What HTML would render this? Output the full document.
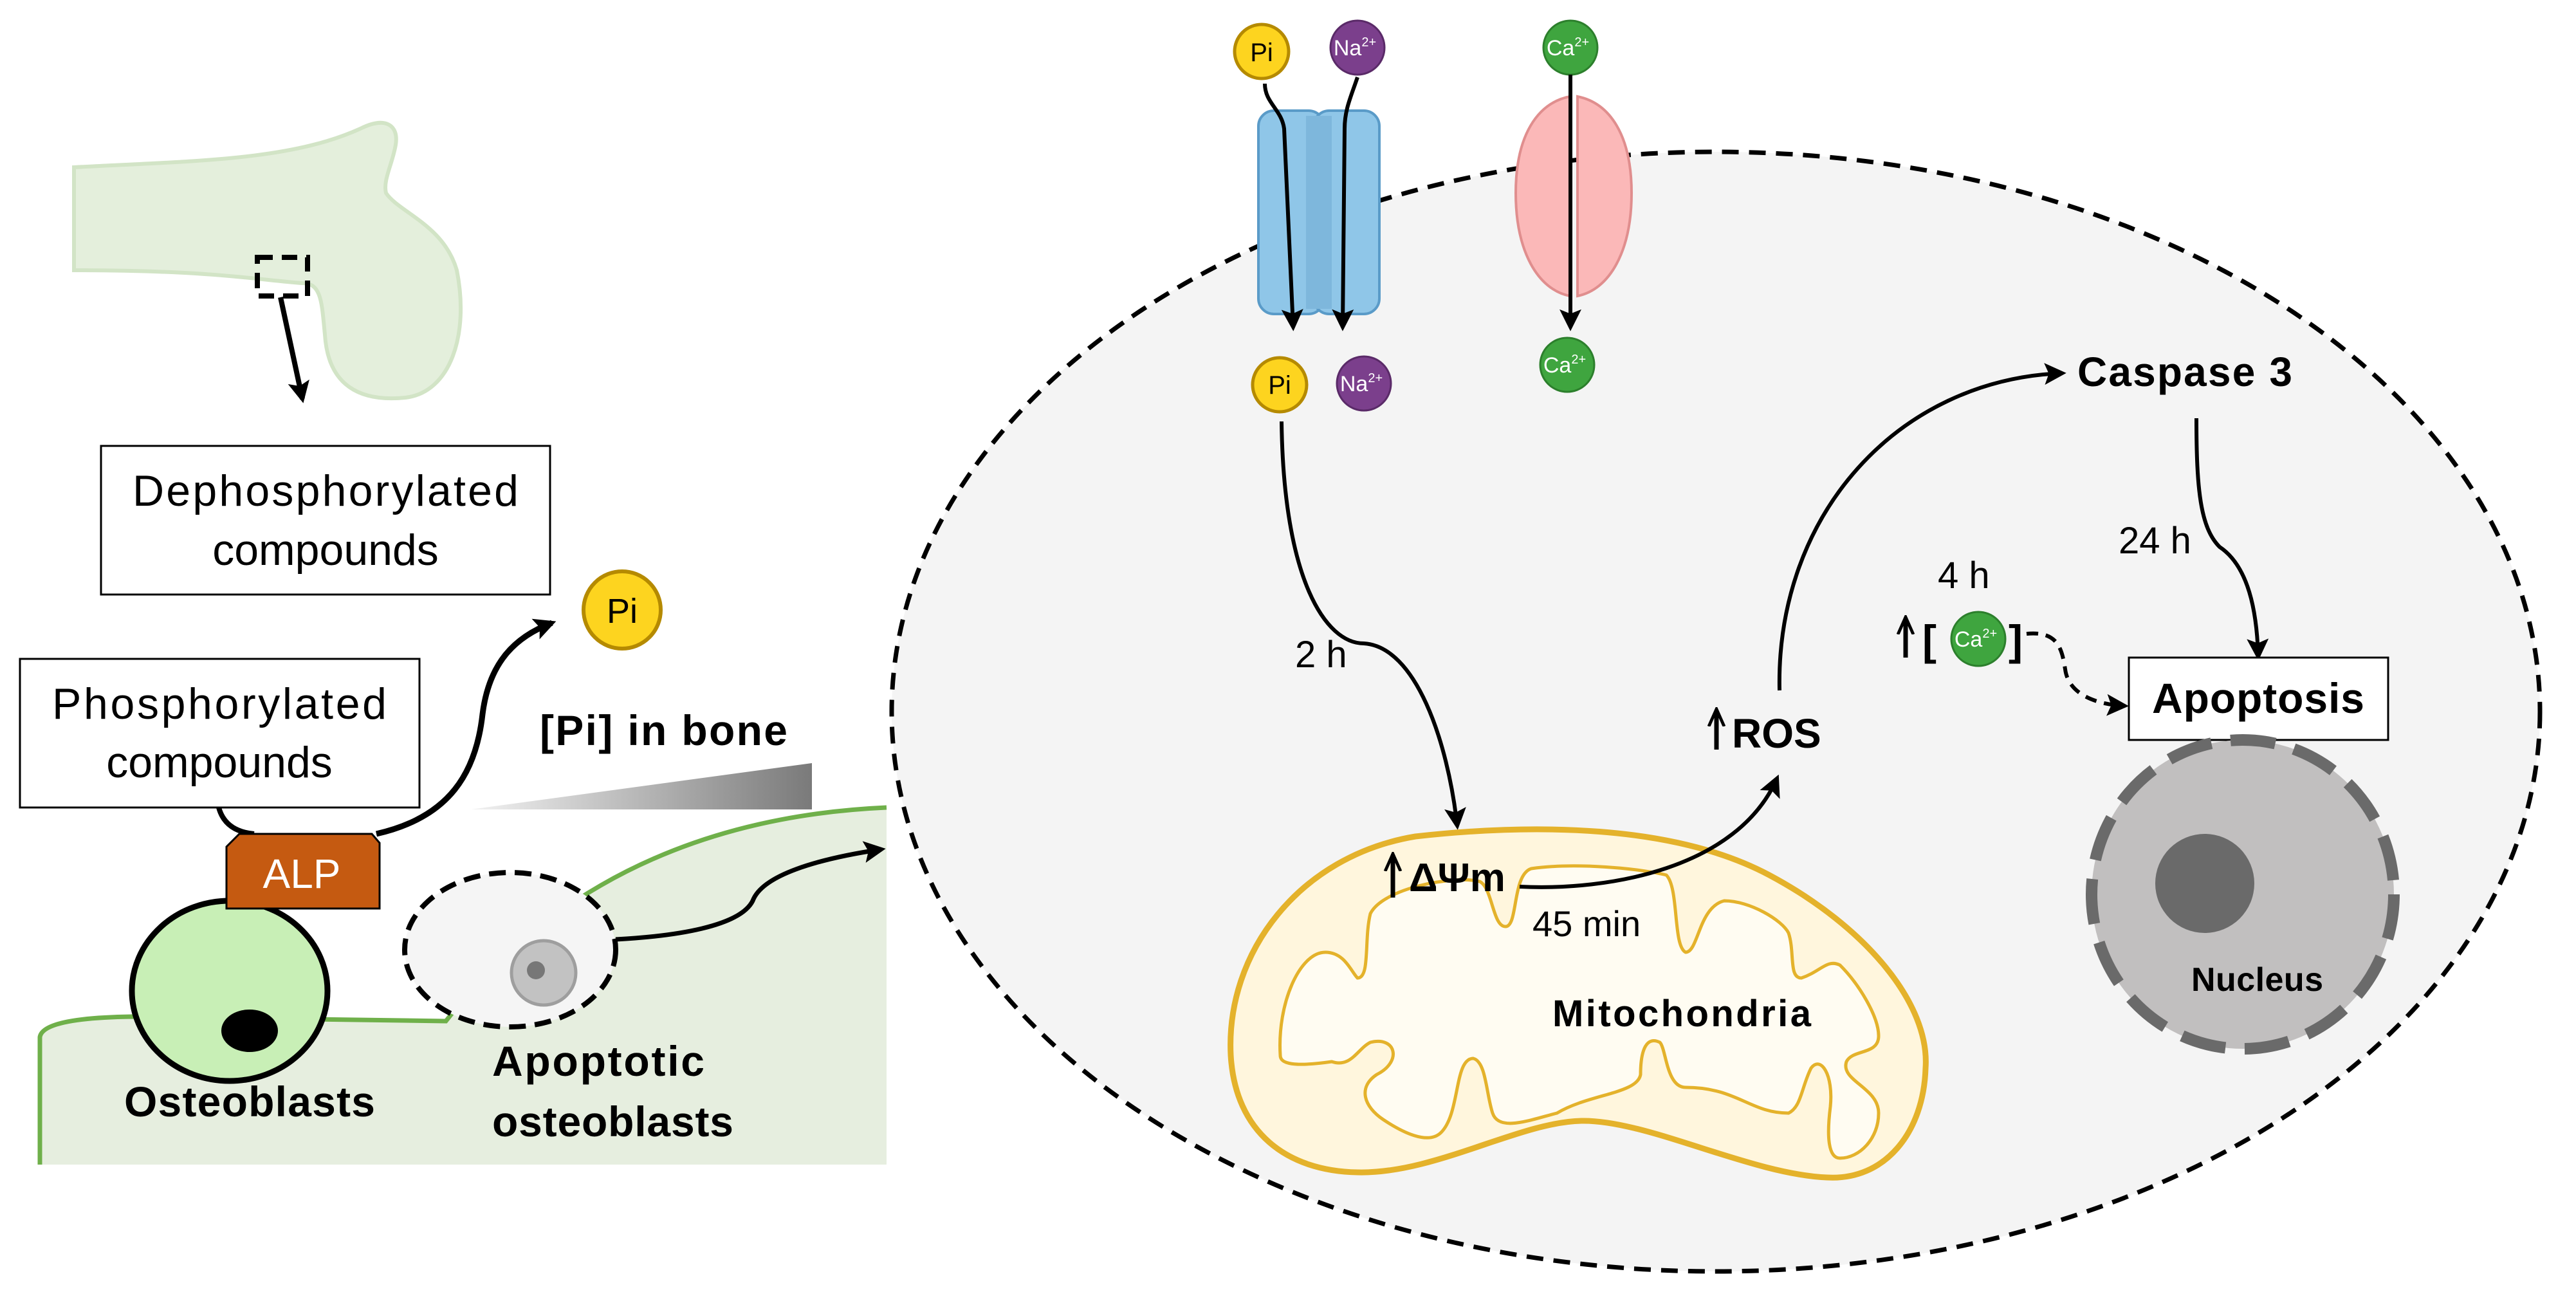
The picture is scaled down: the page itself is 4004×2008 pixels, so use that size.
<!DOCTYPE html>
<html><head><meta charset="utf-8"><style>html,body{margin:0;padding:0;background:#fff}svg{display:block}</style></head>
<body>
<svg xmlns="http://www.w3.org/2000/svg" width="4004" height="2008" viewBox="0 0 4004 2008" font-family="Liberation Sans, sans-serif">
<defs>
<marker id="a" viewBox="0 0 10 10" refX="8" refY="5" markerWidth="34" markerHeight="34" markerUnits="userSpaceOnUse" orient="auto"><path d="M0,0 L10,5 L0,10 L2,5 z" fill="#000"/></marker>
<marker id="u" viewBox="0 0 10 10" refX="8" refY="5" markerWidth="30" markerHeight="30" markerUnits="userSpaceOnUse" orient="auto"><path d="M0,1 L9,5 L0,9" fill="none" stroke="#000" stroke-width="1.6"/></marker>
<linearGradient id="g" x1="0" x2="1" y1="0" y2="0"><stop offset="0" stop-color="#f2f2f2"/><stop offset="1" stop-color="#7a7a7a"/></linearGradient>
</defs>

<!-- bone -->
<path d="M115,260 C300,250 450,250 560,200 C600,180 620,195 615,225 C610,255 595,280 600,300 C620,330 690,350 710,420 C730,520 700,610 630,618 C560,625 510,600 505,520 C500,470 500,440 470,440 C400,435 330,420 115,420 Z" fill="#e4efdc" stroke="#d2e4c6" stroke-width="6"/>
<rect x="400" y="400" width="78" height="60" fill="none" stroke="#000" stroke-width="8" stroke-dasharray="24 14"/>
<line x1="436" y1="462" x2="470" y2="620" stroke="#000" stroke-width="8" marker-end="url(#a)"/>

<!-- boxes -->
<rect x="157" y="693" width="698" height="231" fill="#fff" stroke="#000" stroke-width="3"/>
<text x="506" y="786" font-size="68" text-anchor="middle" textLength="600">Dephosphorylated</text>
<text x="506" y="878" font-size="68" text-anchor="middle">compounds</text>
<rect x="31" y="1024" width="621" height="231" fill="#fff" stroke="#000" stroke-width="3"/>
<text x="341" y="1117" font-size="68" text-anchor="middle" textLength="520">Phosphorylated</text>
<text x="341" y="1208" font-size="68" text-anchor="middle">compounds</text>

<!-- green bone region -->
<path d="M62,1810 L62,1612 Q66,1582 205,1580 L693,1587 C800,1450 1000,1272 1378,1255 L1378,1810 Z" fill="#e6eedf"/>
<path d="M62,1810 L62,1612 Q66,1582 205,1580 L693,1587 C800,1450 1000,1272 1378,1255" fill="none" stroke="#6fb04a" stroke-width="7"/>

<polygon points="732,1258 1262,1186 1262,1258" fill="url(#g)"/>
<text x="839" y="1158" font-size="66" font-weight="bold" textLength="385">[Pi] in bone</text>

<path d="M340,1255 Q350,1292 395,1296" fill="none" stroke="#000" stroke-width="8"/>
<path d="M585,1296 C700,1270 740,1200 750,1110 C760,1030 800,990 858,968" fill="none" stroke="#000" stroke-width="9" marker-end="url(#a)"/>
<circle cx="967" cy="948" r="60" fill="#fdd41f" stroke="#b58a00" stroke-width="6"/>
<text x="967" y="968" font-size="54" text-anchor="middle">Pi</text>

<!-- osteoblast -->
<ellipse cx="357" cy="1540" rx="152" ry="140" fill="#c8efb6" stroke="#000" stroke-width="9"/>
<ellipse cx="388" cy="1602" rx="44" ry="33" fill="#000"/>
<path d="M372,1296 L578,1296 L590,1310 L590,1412 L352,1412 L352,1316 Z" fill="#c55a11" stroke="#000" stroke-width="3"/>
<text x="469" y="1380" font-size="64" fill="#fff" text-anchor="middle">ALP</text>
<text x="193" y="1735" font-size="66" font-weight="bold" textLength="390">Osteoblasts</text>

<!-- apoptotic -->
<ellipse cx="793" cy="1476" rx="164" ry="120" fill="#f5f5f5" stroke="#000" stroke-width="8" stroke-dasharray="26 14"/>
<circle cx="845" cy="1512" r="50" fill="#c2c2c2" stroke="#9e9e9e" stroke-width="5"/>
<circle cx="833" cy="1508" r="14" fill="#777"/>
<path d="M957,1460 C1050,1455 1150,1440 1170,1400 C1185,1360 1270,1335 1370,1320" fill="none" stroke="#000" stroke-width="7" marker-end="url(#a)"/>
<text x="765" y="1672" font-size="66" font-weight="bold" textLength="330">Apoptotic</text>
<text x="765" y="1766" font-size="66" font-weight="bold" textLength="375">osteoblasts</text>

<!-- cell -->
<ellipse cx="2667" cy="1106" rx="1281" ry="870" fill="#f4f4f4" stroke="#000" stroke-width="7" stroke-dasharray="26 16"/>

<!-- blue channel -->
<rect x="1956" y="172" width="102" height="316" rx="24" fill="#8fc6e8" stroke="#5a9bc8" stroke-width="4"/>
<rect x="2042" y="172" width="102" height="316" rx="24" fill="#8fc6e8" stroke="#5a9bc8" stroke-width="4"/>
<rect x="2030" y="180" width="40" height="300" fill="#7eb7dc"/>
<!-- pink channel -->
<path d="M2440,150 C2390,160 2356,210 2356,300 C2356,390 2390,450 2440,460 Z" fill="#fbb8b8" stroke="#e08e8e" stroke-width="4"/>
<path d="M2452,150 C2502,160 2536,210 2536,300 C2536,390 2502,450 2452,460 Z" fill="#fbb8b8" stroke="#e08e8e" stroke-width="4"/>

<circle cx="1961" cy="80" r="42" fill="#fdd41f" stroke="#b58a00" stroke-width="5"/>
<text x="1961" y="95" font-size="40" text-anchor="middle">Pi</text>
<circle cx="2110" cy="74" r="42" fill="#7b3f8c" stroke="#5a2a68" stroke-width="3"/>
<text x="2106" y="86" font-size="34" fill="#fff" text-anchor="middle">Na<tspan font-size="20" dy="-14">2+</tspan></text>
<circle cx="2441" cy="74" r="42" fill="#3fa53f" stroke="#2c7f2c" stroke-width="3"/>
<text x="2437" y="86" font-size="34" fill="#fff" text-anchor="middle">Ca<tspan font-size="20" dy="-14">2+</tspan></text>

<path d="M1966,130 C1966,160 1992,170 1996,200 L2010,508" fill="none" stroke="#000" stroke-width="6" marker-end="url(#a)"/>
<path d="M2110,120 C2100,150 2090,170 2090,200 L2087,508" fill="none" stroke="#000" stroke-width="6" marker-end="url(#a)"/>
<line x1="2441" y1="116" x2="2441" y2="508" stroke="#000" stroke-width="6" marker-end="url(#a)"/>

<circle cx="1989" cy="598" r="42" fill="#fdd41f" stroke="#b58a00" stroke-width="5"/>
<text x="1989" y="612" font-size="40" text-anchor="middle">Pi</text>
<circle cx="2120" cy="596" r="42" fill="#7b3f8c" stroke="#5a2a68" stroke-width="3"/>
<text x="2116" y="608" font-size="34" fill="#fff" text-anchor="middle">Na<tspan font-size="20" dy="-14">2+</tspan></text>
<circle cx="2436" cy="567" r="42" fill="#3fa53f" stroke="#2c7f2c" stroke-width="3"/>
<text x="2432" y="579" font-size="34" fill="#fff" text-anchor="middle">Ca<tspan font-size="20" dy="-14">2+</tspan></text>

<path d="M1992,655 C1995,900 2060,1000 2120,1000 C2200,1005 2250,1150 2265,1283" fill="none" stroke="#000" stroke-width="6" marker-end="url(#a)"/>
<text x="2013" y="1037" font-size="58">2 h</text>

<!-- mitochondria -->
<path d="M1913,1640 C1905,1480 2020,1330 2200,1300 C2380,1280 2600,1280 2750,1360 C2900,1440 3000,1560 2993,1660 C2990,1760 2930,1835 2840,1830 C2720,1825 2560,1740 2458,1742 C2360,1744 2230,1825 2110,1822 C2000,1820 1920,1760 1913,1640 Z" fill="#fff6dd" stroke="#e4b22b" stroke-width="9"/>
<path d="M1990,1640 C1985,1560 2020,1480 2060,1480 C2090,1480 2100,1510 2110,1520 C2130,1520 2120,1460 2130,1420 C2150,1380 2260,1360 2300,1370 C2320,1380 2320,1440 2340,1440 C2360,1440 2350,1360 2380,1350 C2450,1340 2550,1350 2590,1360 C2610,1380 2600,1470 2620,1480 C2640,1480 2640,1410 2680,1400 C2720,1400 2770,1430 2780,1450 C2790,1480 2780,1520 2800,1520 C2830,1510 2840,1490 2860,1500 C2890,1530 2920,1580 2920,1610 C2920,1640 2880,1630 2870,1650 C2860,1680 2920,1690 2920,1730 C2920,1770 2890,1800 2860,1800 C2840,1800 2840,1760 2845,1720 C2850,1670 2830,1640 2815,1660 C2800,1690 2800,1720 2780,1730 C2720,1730 2700,1690 2620,1690 C2590,1690 2590,1630 2580,1620 C2560,1610 2550,1630 2550,1670 C2545,1700 2470,1700 2420,1730 C2380,1740 2330,1760 2320,1730 C2310,1700 2310,1650 2290,1645 C2260,1645 2270,1730 2240,1760 C2220,1780 2180,1760 2150,1740 C2120,1720 2110,1690 2140,1670 C2180,1650 2170,1610 2130,1620 C2110,1630 2100,1660 2070,1650 C2000,1660 1990,1650 1990,1640 Z" fill="#fffcf2" stroke="#e4b22b" stroke-width="5"/>
<text x="2413" y="1595" font-size="58" font-weight="bold" textLength="402">Mitochondria</text>

<line x1="2165" y1="1395" x2="2165" y2="1330" stroke="#000" stroke-width="7" marker-end="url(#u)"/>
<text x="2190" y="1385" font-size="62" font-weight="bold">ΔΨm</text>
<text x="2382" y="1455" font-size="56">45 min</text>
<path d="M2362,1378 C2500,1385 2700,1350 2762,1210" fill="none" stroke="#000" stroke-width="6" marker-end="url(#a)"/>

<line x1="2668" y1="1165" x2="2668" y2="1105" stroke="#000" stroke-width="7" marker-end="url(#u)"/>
<text x="2692" y="1162" font-size="64" font-weight="bold">ROS</text>
<path d="M2766,1073 C2760,800 2950,590 3205,580" fill="none" stroke="#000" stroke-width="6" marker-end="url(#a)"/>
<text x="3229" y="600" font-size="64" font-weight="bold" textLength="334">Caspase 3</text>

<path d="M3414,650 C3414,760 3420,820 3450,850 C3495,880 3508,950 3510,1020" fill="none" stroke="#000" stroke-width="6" marker-end="url(#a)"/>
<text x="3293" y="860" font-size="58">24 h</text>
<text x="3012" y="914" font-size="58">4 h</text>

<line x1="2962" y1="1022" x2="2962" y2="962" stroke="#000" stroke-width="7" marker-end="url(#u)"/>
<text x="2988" y="1018" font-size="66" font-weight="bold">[</text>
<circle cx="3075" cy="993" r="42" fill="#3fa53f" stroke="#2c7f2c" stroke-width="3"/>
<text x="3071" y="1005" font-size="34" fill="#fff" text-anchor="middle">Ca<tspan font-size="20" dy="-14">2+</tspan></text>
<text x="3122" y="1018" font-size="66" font-weight="bold">]</text>
<path d="M3150,985 C3200,980 3205,1010 3210,1040 C3215,1080 3260,1095 3302,1097" fill="none" stroke="#000" stroke-width="6" stroke-dasharray="18 12" marker-end="url(#a)"/>

<rect x="3309" y="1022" width="403" height="128" fill="#fff" stroke="#000" stroke-width="3"/>
<text x="3510" y="1108" font-size="66" font-weight="bold" text-anchor="middle" textLength="330">Apoptosis</text>

<ellipse cx="3486" cy="1390" rx="235" ry="240" fill="#c1bfbf" stroke="#6a6a6a" stroke-width="18" stroke-dasharray="70 30"/>
<circle cx="3427" cy="1373" r="77" fill="#6a6a6a"/>
<text x="3406" y="1540" font-size="52" font-weight="bold" textLength="205">Nucleus</text>
</svg>
</body></html>
